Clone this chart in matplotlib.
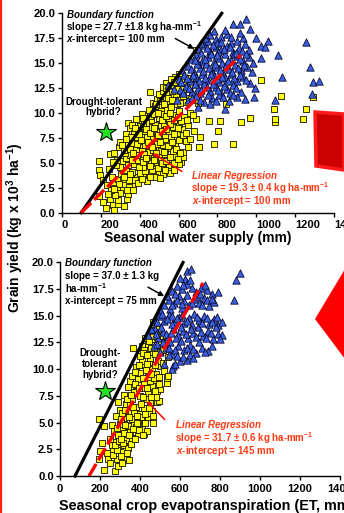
import numpy as np
import matplotlib.pyplot as plt
from matplotlib.patches import Polygon
from matplotlib.lines import Line2D

plt.rcParams['font.family'] = ['Liberation Sans', 'DejaVu Sans']
plt.rcParams['font.weight'] = 'bold'
plt.rcParams['mathtext.fontset'] = 'custom'
plt.rcParams['mathtext.rm'] = 'Liberation Sans:bold'
plt.rcParams['mathtext.it'] = 'Liberation Sans:bold:italic'
plt.rcParams['mathtext.bf'] = 'Liberation Sans:bold'

# --- data (x in mm, y in 10^3 kg/ha) ---
supply_yellow = [
    (190, 5.2), (193, 4.3), (198, 3.8), (213, 3.3), (231, 2.8), (193, 1.7), (213, 1.1), (248, 1.4),
    (265, 0.8), (227, 0.5), (268, 0.3), (290, 0.9), (320, 0.7), (291, 1.3), (333, 1.4), (342, 1.9),
    (316, 2.4), (300, 2.0), (275, 1.8), (252, 2.3), (236, 1.9), (282, 2.6),
    (265, 3.1), (290, 3.4), (305, 3.9), (325, 2.9), (348, 3.3), (368, 2.7), (388, 3.6), (418, 3.7),
    (440, 3.2), (402, 4.0), (362, 4.1), (330, 4.3), (300, 4.6), (280, 4.8), (243, 4.4), (256, 3.6),
    (462, 4.3), (500, 4.1), (547, 4.5), (555, 4.0), (522, 3.9), (375, 3.3), (345, 2.6), (315, 3.4),
    (430, 4.2), (480, 3.6),
    (250, 5.9), (270, 6.0), (292, 6.6), (310, 5.2), (330, 5.5), (352, 5.8), (372, 4.9), (392, 5.3),
    (410, 5.6), (432, 5.0), (452, 5.4), (470, 5.7), (490, 5.1), (512, 5.5), (532, 5.9), (560, 5.3),
    (582, 5.7), (614, 5.1), (621, 5.6), (600, 4.9), (340, 4.8), (420, 4.6), (480, 4.8), (362, 5.3),
    (442, 5.9), (500, 5.9), (385, 5.8), (325, 6.0), (550, 4.8), (460, 5.0),
    (299, 7.1), (320, 6.3), (340, 6.9), (359, 7.0), (380, 6.4), (400, 6.8), (420, 7.2), (440, 6.5),
    (460, 6.9), (480, 7.3), (500, 6.4), (520, 6.8), (540, 7.2), (560, 6.5), (580, 6.9), (600, 7.3),
    (624, 6.1), (650, 6.6), (706, 6.6), (781, 6.9), (880, 6.9), (390, 7.4), (450, 6.1), (510, 6.2),
    (430, 6.8), (470, 6.3), (350, 6.4), (410, 6.2), (490, 6.9), (530, 7.4), (570, 6.2), (640, 7.2),
    (342, 9.0), (350, 8.5), (330, 7.9), (370, 8.0), (390, 8.4), (410, 7.8), (430, 8.2), (450, 8.6),
    (470, 7.9), (490, 8.3), (510, 8.7), (530, 7.8), (550, 8.2), (570, 8.6), (590, 8.0), (620, 8.4),
    (650, 8.8), (680, 8.2), (709, 7.6), (803, 8.2), (360, 8.8), (460, 7.6), (400, 8.9), (440, 7.6),
    (500, 7.7), (525, 8.9), (560, 7.6), (600, 8.9), (380, 7.6), (480, 8.8),
    (402, 9.3), (424, 9.2), (380, 9.4), (440, 9.8), (460, 9.3), (480, 10.1), (500, 9.5), (520, 9.9),
    (540, 10.3), (560, 9.4), (580, 9.8), (600, 10.2), (630, 9.6), (660, 10.0), (690, 9.4), (757, 9.2),
    (812, 9.2), (923, 9.1), (966, 9.5), (1094, 9.1), (1096, 9.4), (1239, 9.4), (470, 10.4), (410, 9.9),
    (450, 10.3), (510, 10.5), (550, 9.2), (615, 9.2), (435, 9.0),
    (453, 12.1), (470, 11.0), (490, 11.4), (510, 10.8), (530, 11.6), (550, 11.2), (570, 11.8), (590, 10.9),
    (610, 11.5), (640, 11.1), (670, 11.7), (846, 10.9), (1089, 10.4), (1256, 10.4), (1124, 11.7), (1290, 11.6),
    (500, 11.9), (620, 12.0), (480, 10.7), (560, 10.6), (700, 11.0), (520, 12.2),
    (538, 13.0), (520, 12.6), (552, 12.3), (570, 12.8), (590, 13.2), (610, 12.6), (630, 13.1), (650, 12.4),
    (582, 13.6), (1026, 13.3), (692, 16.3), (560, 13.4), (540, 12.0), (680, 12.9), (600, 13.9),
    (365, 6.0), (385, 6.9), (405, 7.3), (425, 5.9), (445, 7.1), (465, 6.6), (485, 6.0), (505, 7.1),
    (525, 6.1), (545, 6.7), (565, 7.1), (585, 6.4), (605, 6.0), (395, 4.6), (415, 5.1), (435, 5.5),
    (455, 4.7), (475, 5.3), (495, 4.5), (515, 5.0), (535, 5.2), (555, 5.6), (575, 5.0), (595, 5.4),
    (355, 7.6), (375, 8.5), (395, 7.9), (415, 8.7), (435, 8.4), (455, 8.0), (475, 8.5), (495, 7.8),
    (515, 8.2), (535, 8.4), (555, 8.9), (575, 7.9), (595, 8.5), (625, 7.8), (640, 8.0), (660, 7.4),
    (415, 9.5), (455, 9.7), (475, 9.9), (495, 10.0), (515, 9.3), (535, 9.7), (555, 10.0), (575, 9.3),
    (595, 9.6), (645, 9.3), (675, 9.8), (485, 10.9), (505, 11.2), (525, 10.9), (545, 11.5), (565, 11.3),
    (585, 11.9), (605, 11.0), (625, 11.7), (655, 11.5), (685, 11.3), (535, 12.5), (565, 12.2), (595, 12.4),
    (625, 12.4), (660, 12.8), (575, 13.1), (615, 13.4), (645, 13.5), (390, 3.0), (410, 3.4), (350, 3.9),
    (320, 3.6), (295, 2.9), (270, 2.4), (365, 2.3), (335, 2.3), (455, 3.6), (505, 3.5), (530, 4.3),
    (575, 4.3), (285, 5.3), (265, 5.1), (310, 6.8), (330, 7.4),
]

supply_blue = [
    (880, 18.9), (918, 18.9), (944, 19.4), (966, 18.4), (1000, 17.5), (1057, 17.2), (1026, 16.7), (1021, 15.5),
    (1112, 15.8), (1133, 13.6), (1097, 11.3), (1256, 17.1), (1273, 14.6), (1291, 13.1), (1321, 13.2), (1287, 11.9),
    (991, 12.5), (988, 11.6), (940, 11.4), (969, 13.0), (1045, 16.6),
    (760, 17.8), (790, 17.4), (820, 17.6), (850, 17.9), (900, 17.2), (930, 17.5), (780, 18.2), (915, 18.0),
    (700, 16.5), (730, 16.8), (760, 16.2), (790, 16.6), (820, 16.3), (850, 16.7), (880, 16.1), (910, 16.5),
    (940, 16.9), (960, 16.3), (752, 17.2), (800, 17.0), (870, 17.0),
    (660, 15.4), (690, 15.8), (720, 15.2), (750, 15.6), (780, 15.1), (810, 15.5), (840, 15.9), (870, 15.3),
    (900, 15.7), (930, 15.2), (960, 15.6), (980, 15.0), (700, 15.0), (765, 15.9), (825, 15.0), (885, 15.9),
    (620, 14.3), (650, 14.7), (680, 14.1), (710, 14.5), (740, 14.9), (770, 14.2), (800, 14.6), (830, 14.0),
    (860, 14.4), (890, 14.8), (920, 14.3), (950, 14.6), (975, 14.1), (695, 14.9), (755, 14.5), (845, 14.8),
    (600, 13.4), (630, 13.8), (660, 13.2), (690, 13.6), (720, 13.9), (750, 13.3), (780, 13.7), (810, 13.1),
    (840, 13.5), (870, 13.9), (900, 13.2), (930, 13.6), (705, 13.2), (765, 13.9), (825, 13.6), (885, 13.5),
    (610, 12.3), (640, 12.7), (670, 12.1), (700, 12.5), (730, 12.9), (760, 12.2), (790, 12.6), (820, 12.0),
    (850, 12.4), (880, 12.8), (920, 12.1), (547, 12.8), (575, 12.4), (709, 12.0),
    (650, 11.3), (690, 11.7), (730, 11.1), (770, 11.5), (810, 11.8), (860, 11.2), (900, 11.6), (590, 11.3),
    (700, 10.6), (760, 10.9), (840, 10.4),
    (715, 16.0), (745, 16.5), (775, 16.8), (805, 16.1), (835, 16.4), (865, 16.6), (895, 16.0), (925, 16.2),
    (685, 15.3), (735, 15.4), (795, 15.8), (855, 15.2), (915, 15.4), (945, 15.9), (665, 14.4), (725, 14.2),
    (785, 14.9), (815, 14.3), (875, 14.1), (905, 14.5), (935, 14.8), (615, 13.1), (645, 13.5), (675, 13.8),
    (735, 13.5), (795, 13.4), (855, 13.2), (915, 13.8), (945, 13.3), (625, 12.0), (655, 12.5), (685, 12.9),
    (715, 12.3), (745, 12.6), (775, 12.9), (805, 12.3), (835, 12.7), (865, 12.0), (895, 12.5), (670, 11.5),
    (710, 11.3), (750, 11.8), (790, 11.2), (830, 11.6), (880, 11.8), (820, 17.1), (870, 17.6), (840, 18.3),
    (735, 17.5), (715, 17.0),
]

et_yellow = [
    (197, 5.3), (222, 4.7), (208, 3.1), (200, 2.3), (197, 1.6), (220, 0.6), (242, 1.6), (275, 0.5),
    (292, 0.9), (283, 1.6), (330, 1.6), (317, 2.3), (300, 2.8), (267, 2.5), (422, 3.9), (467, 5.0),
    (483, 6.9), (483, 8.0), (533, 8.7), (533, 9.2), (367, 12.0), (408, 12.2),
    (250, 1.2), (265, 2.0), (285, 2.4), (305, 1.9), (320, 2.9), (340, 2.6), (260, 2.9), (235, 2.2),
    (310, 1.2), (345, 1.5),
    (250, 3.5), (270, 4.2), (290, 3.8), (310, 4.5), (330, 3.4), (350, 4.1), (370, 4.8), (390, 3.9),
    (280, 3.2), (300, 4.9), (320, 4.0), (360, 3.6), (340, 4.7), (410, 4.4), (262, 4.8), (380, 4.6),
    (435, 4.2),
    (280, 5.6), (300, 6.2), (320, 5.4), (340, 6.0), (360, 5.3), (380, 6.5), (400, 5.8), (420, 6.4),
    (440, 5.5), (460, 6.1), (290, 6.9), (330, 6.7), (370, 5.9), (410, 5.2), (350, 6.8), (450, 6.8),
    (390, 5.1), (310, 5.9), (495, 7.0),
    (320, 7.6), (340, 8.3), (360, 7.2), (380, 8.0), (400, 7.5), (420, 8.6), (440, 7.8), (460, 8.4),
    (480, 7.4), (500, 8.1), (350, 8.9), (390, 8.8), (430, 7.2), (470, 9.0), (370, 7.9), (410, 8.2),
    (450, 8.9),
    (360, 9.4), (380, 10.2), (400, 9.6), (420, 10.4), (440, 9.3), (460, 10.0), (480, 9.5), (500, 10.3),
    (520, 9.8), (390, 9.1), (410, 10.8), (450, 10.7), (470, 9.2), (430, 9.9), (490, 10.8), (540, 9.4),
    (400, 11.2), (420, 11.8), (440, 12.4), (460, 11.4), (480, 12.0), (500, 11.6), (520, 12.3), (540, 11.1),
    (430, 12.9), (470, 12.8), (510, 13.1), (450, 11.0), (425, 12.9), (467, 14.4), (490, 13.8), (455, 13.5),
    (275, 2.9), (295, 3.3), (315, 3.1), (335, 2.2), (355, 3.0), (375, 3.5), (395, 4.3), (415, 3.8),
    (285, 4.5), (305, 3.5), (325, 4.8), (345, 3.8), (365, 4.4), (385, 5.0), (405, 5.5), (425, 5.0),
    (445, 5.9), (305, 5.3), (325, 6.2), (345, 5.5), (365, 6.5), (385, 5.6), (405, 6.7), (425, 5.8),
    (445, 6.4), (465, 5.6), (335, 7.2), (355, 7.6), (375, 8.6), (395, 8.2), (415, 7.4), (435, 8.2),
    (455, 7.4), (475, 8.0), (495, 8.6), (375, 9.7), (395, 10.4), (415, 9.2), (435, 10.5), (455, 9.5),
    (475, 10.4), (495, 9.3), (515, 10.6), (415, 11.5), (435, 11.3), (455, 12.0), (475, 11.4), (495, 12.3),
    (515, 11.8), (445, 12.6), (485, 13.0), (465, 13.1), (505, 12.5),
]

et_blue = [
    (633, 19.2), (655, 19.4), (900, 19.0), (878, 18.3), (870, 16.5), (625, 18.4),
    (560, 17.3), (585, 17.8), (610, 17.5), (635, 18.0), (660, 17.6), (600, 18.5), (680, 17.2), (705, 17.6),
    (735, 17.4), (760, 17.0), (792, 17.2),
    (520, 16.0), (545, 16.5), (570, 16.2), (595, 16.8), (620, 16.4), (645, 16.0), (670, 16.6), (695, 16.2),
    (720, 16.7), (745, 15.9), (770, 16.3), (550, 15.6), (610, 15.7), (500, 15.5),
    (470, 14.6), (495, 15.0), (520, 14.5), (545, 15.1), (570, 14.4), (595, 14.9), (620, 14.3), (645, 14.8),
    (670, 15.2), (695, 14.6), (720, 15.0), (745, 14.2), (770, 14.7), (790, 14.1), (810, 14.4), (560, 15.0),
    (440, 13.2), (465, 13.7), (490, 12.9), (515, 13.5), (540, 13.0), (565, 13.8), (590, 13.2), (615, 13.6),
    (640, 12.9), (665, 13.4), (690, 13.9), (715, 13.1), (740, 13.6), (765, 12.8), (790, 13.3), (810, 13.2),
    (780, 13.9), (475, 13.8),
    (470, 12.2), (500, 11.6), (530, 12.0), (560, 11.4), (590, 12.2), (620, 11.8), (650, 12.3), (680, 11.5),
    (710, 12.0), (740, 11.7), (760, 12.2), (550, 12.5),
    (520, 10.5), (567, 10.3), (600, 10.8), (633, 10.9), (650, 11.3), (558, 10.0), (575, 10.5),
    (535, 16.8), (560, 16.0), (585, 16.5), (610, 16.1), (635, 16.9), (660, 16.2), (685, 16.8), (710, 16.0),
    (735, 16.5), (760, 16.6), (485, 14.4), (510, 15.2), (535, 14.7), (560, 14.2), (585, 14.8), (610, 15.1),
    (635, 14.5), (660, 14.1), (685, 14.9), (710, 14.3), (735, 14.8), (760, 14.4), (785, 14.9), (455, 13.8),
    (480, 13.3), (505, 13.9), (530, 13.3), (555, 13.4), (580, 12.9), (605, 13.9), (630, 13.3), (655, 13.8),
    (680, 13.0), (705, 13.5), (730, 12.9), (755, 13.4), (800, 12.8), (485, 12.4), (515, 12.5), (545, 12.0),
    (575, 11.8), (605, 12.6), (635, 12.0), (665, 11.9), (695, 12.5), (725, 11.6), (545, 11.3), (585, 11.2),
    (615, 11.1), (665, 11.0), (575, 17.0), (615, 17.9), (650, 18.3), (700, 17.0), (725, 17.9),
]

hybrid_supply = (228, 8.1)
hybrid_et = (225, 8.0)

# fitted lines as given in the figure text (slope kg ha-mm-1, x-intercept mm, x end mm)
supply_bound = (27.7, 100, 822)
supply_reg = (19.3, 100, 920)
et_bound = (37.0, 75, 615)
et_reg = (31.7, 145, 715)

RED_TXT = '#FF3A12'

fig = plt.figure(figsize=(3.44, 5.13), dpi=100)
ax1 = fig.add_axes([0.1794, 0.5854, 0.7924, 0.3887])
ax2 = fig.add_axes([0.1744, 0.0721, 0.8140, 0.4166])


def draw_panel(ax, yellow, blue, bound, reg, star):
    yx, yy = np.array(yellow).T
    bx, by = np.array(blue).T
    ax.scatter(yx, yy, marker='s', s=25, facecolor='#FFFF00', edgecolor='#111100', linewidth=0.6, zorder=2)
    ax.scatter(bx, by, marker='^', s=28, facecolor='#3A5FE0', edgecolor='#0A0A30', linewidth=0.6, zorder=3)
    slope, x0, x1 = bound
    xs = np.array([x0, x1])
    ax.plot(xs, slope * (xs - x0) / 1000, color='black', lw=2.3, zorder=4, clip_on=False)
    slope, x0, x1 = reg
    xs = np.array([x0, x1])
    ax.plot(xs, slope * (xs - x0) / 1000, color='#FF0000', lw=2.4, ls=(0, (4.2, 1.3)), zorder=5)
    ax.plot(*star, marker='*', ms=15, color='#22E022', mec='black', mew=0.8, zorder=6)
    ax.set_xlim(0, 1400)
    ax.set_ylim(0, 20)
    ax.set_xticks(np.arange(0, 1401, 200))
    ax.set_yticks(np.arange(0, 20.01, 2.5))
    ax.set_yticklabels(['%.1f' % v for v in np.arange(0, 20.01, 2.5)])
    ax.tick_params(labelsize=8, length=3, width=1, pad=1.5)
    for side in ['top', 'right']:
        ax.spines[side].set_visible(False)
    for side in ['left', 'bottom']:
        ax.spines[side].set_linewidth(1)
    for lab in ax.get_xticklabels() + ax.get_yticklabels():
        lab.set_fontweight('bold')


draw_panel(ax1, supply_yellow, supply_blue, supply_bound, supply_reg, hybrid_supply)
draw_panel(ax2, et_yellow, et_blue, et_bound, et_reg, hybrid_et)

# top panel tick labels sit to the right of their ticks
for lab in ax1.get_xticklabels():
    lab.set_horizontalalignment('left')
ax1.tick_params(axis='x', pad=2)
ax2.tick_params(axis='x', pad=3)

ax1.set_xlabel('Seasonal water supply (mm)', fontsize=10, fontweight='bold', labelpad=1)
ax2.set_xlabel('Seasonal crop evapotranspiration (ET, mm)', fontsize=10.4, fontweight='bold',
               labelpad=3, ha='left', x=-0.005)
fig.text(0.044, 0.556, 'Grain yield (kg x 10$^{3}$ ha$^{-1}$)', rotation=90, fontsize=10,
         fontweight='bold', ha='center', va='center')

fs = 7
# top panel annotations
ax1.text(27, 19.8, 'Boundary function', fontsize=fs, style='italic', fontweight='bold', va='center')
ax1.text(22, 18.65, 'slope = 27.7 \u00b11.8 kg ha-mm$^{-1}$', fontsize=fs, fontweight='bold', va='center')
ax1.text(22, 17.45, '$\\it{x}$-intercept = 100 mm', fontsize=fs, fontweight='bold', va='center')
ax1.annotate('', xy=(692, 16.3), xytext=(571, 17.6),
             arrowprops=dict(arrowstyle='-|>', color='black', lw=1.1, mutation_scale=7))
ax1.text(215, 10.6, 'Drought-tolerant\nhybrid?', fontsize=fs, fontweight='bold', ha='center', va='center',
         linespacing=1.1)
ax1.text(669, 3.7, 'Linear Regression', fontsize=fs, style='italic', fontweight='bold', va='center', color=RED_TXT)
ax1.text(664, 2.45, 'slope = 19.3 \u00b1 0.4 kg ha-mm$^{-1}$', fontsize=fs, fontweight='bold', va='center',
         color=RED_TXT)
ax1.text(669, 1.2, '$\\it{x}$-intercept = 100 mm', fontsize=fs, fontweight='bold', va='center', color=RED_TXT)
ax1.annotate('', xy=(456, 6.1), xytext=(629, 4.0),
             arrowprops=dict(arrowstyle='-|>', color='#FF0000', lw=1.1, mutation_scale=6))

# bottom panel annotations
ax2.text(25, 19.9, 'Boundary function', fontsize=fs, style='italic', fontweight='bold', va='center')
ax2.text(25, 18.7, 'slope = 37.0 \u00b1 1.3 kg', fontsize=fs, fontweight='bold', va='center')
ax2.text(25, 17.55, 'ha-mm$^{-1}$', fontsize=fs, fontweight='bold', va='center')
ax2.text(25, 16.35, 'x-intercept = 75 mm', fontsize=fs, fontweight='bold', va='center')
ax2.annotate('', xy=(533, 16.7), xytext=(428, 17.8),
             arrowprops=dict(arrowstyle='-|>', color='black', lw=1.1, mutation_scale=7))
ax2.text(200, 10.5, 'Drought-\ntolerant\nhybrid?', fontsize=fs, fontweight='bold', ha='center', va='center',
         linespacing=1.15)
ax2.text(578, 4.8, 'Linear Regression', fontsize=fs, style='italic', fontweight='bold', va='center', color=RED_TXT)
ax2.text(575, 3.55, 'slope = 31.7 \u00b1 0.6 kg ha-mm$^{-1}$', fontsize=fs, fontweight='bold', va='center',
         color=RED_TXT)
ax2.text(578, 2.35, '$\\it{x}$-intercept = 145 mm', fontsize=fs, fontweight='bold', va='center', color=RED_TXT)
ax2.annotate('', xy=(425, 7.2), xytext=(533, 5.1),
             arrowprops=dict(arrowstyle='-|>', color='#FF0000', lw=1.1, mutation_scale=6))

# slide decorations around the chart
W, H = 344.0, 513.0
fig.add_artist(Line2D([1.2 / W, 1.2 / W], [0, 1], transform=fig.transFigure, color='#FF2000', lw=1.6))
box = [(315, 112), (344, 114), (344, 170), (316, 166)]
fig.add_artist(Polygon([(x / W, 1 - y / H) for x, y in box], closed=True, transform=fig.transFigure,
                       facecolor='#CC0000', edgecolor='#FF1A1A', lw=2.5))
diamond = [(315, 319), (360, 244), (405, 319), (360, 379)]
fig.add_artist(Polygon([(x / W, 1 - y / H) for x, y in diamond], closed=True, transform=fig.transFigure,
                       facecolor='#FF0000', edgecolor='none'))

fig.savefig('out.png', dpi=100)
